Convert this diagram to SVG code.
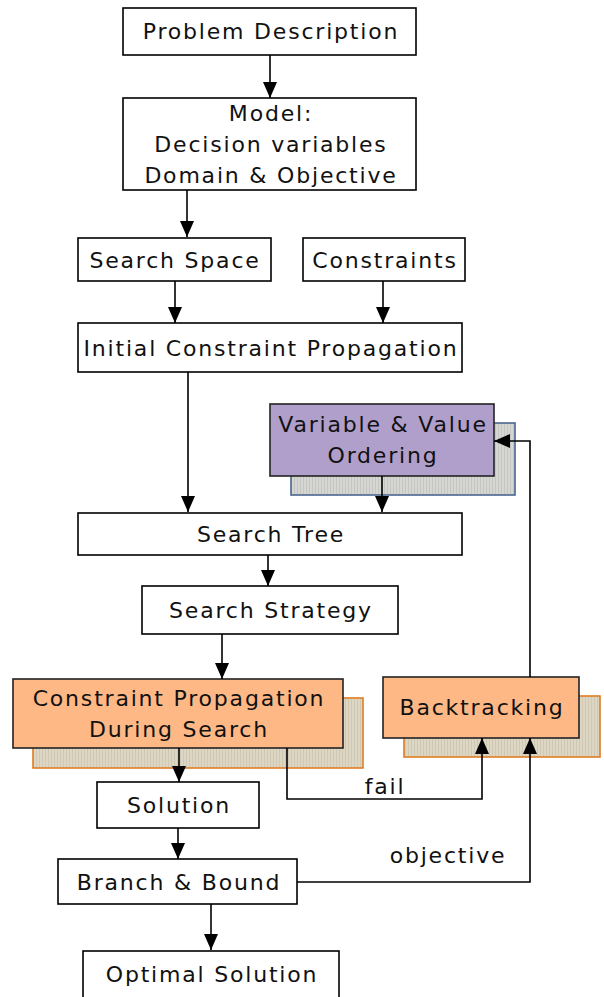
<svg xmlns="http://www.w3.org/2000/svg" width="604" height="997" viewBox="0 0 604 997">
<defs>
<marker id="ahb" viewBox="0 0 16 14" refX="16" refY="7" markerWidth="16" markerHeight="14" markerUnits="userSpaceOnUse" orient="auto">
<path d="M0,0 L16,7 L0,14 z" fill="#000"/>
</marker>
<pattern id="stripe" width="3" height="4" patternUnits="userSpaceOnUse">
<rect width="3" height="4" fill="#ddd6c3"/>
<rect width="1" height="4" fill="#cfc8b4"/>
</pattern>
<pattern id="stripeb" width="3" height="4" patternUnits="userSpaceOnUse">
<rect width="3" height="4" fill="#d6d6d2"/>
<rect width="1" height="4" fill="#c4c6c4"/>
</pattern>
</defs>
<style>
.box{fill:#fff;stroke:#000;stroke-width:1.6}
.orange{fill:#fdb885;stroke:#222;stroke-width:1.6}
.purple{fill:#b09fcb;stroke:#222;stroke-width:1.6}
.shO{fill:url(#stripe);stroke:#e07c22;stroke-width:1.6}
.shB{fill:url(#stripeb);stroke:#4a6690;stroke-width:1.6}
text{font-family:"DejaVu Sans","Liberation Sans",sans-serif;font-size:22px;fill:#111;text-anchor:middle;letter-spacing:1.8px}
.c{fill:none;stroke:#000;stroke-width:1.6}
</style>

<g id="problem">
<rect class="box" x="123" y="8" width="293" height="47"/>
<text x="271" y="39">Problem Description</text>
</g>
<g id="model">
<rect class="box" x="123" y="98" width="293" height="92"/>
<text x="271" y="121">Model:</text>
<text x="271" y="152">Decision variables</text>
<text x="271" y="183">Domain &amp; Objective</text>
</g>
<g id="searchspace">
<rect class="box" x="78" y="238" width="193" height="43"/>
<text x="175" y="268">Search Space</text>
</g>
<g id="constraints">
<rect class="box" x="303" y="238" width="162" height="43"/>
<text x="385" y="268">Constraints</text>
</g>
<g id="initial">
<rect class="box" x="78" y="323" width="384" height="49"/>
<text x="271" y="356">Initial Constraint Propagation</text>
</g>
<g id="ordering">
<rect class="shB" x="291" y="423" width="224" height="72"/>
<rect class="purple" x="270" y="404" width="224" height="72"/>
<text x="383" y="432">Variable &amp; Value</text>
<text x="383" y="463">Ordering</text>
</g>
<g id="searchtree">
<rect class="box" x="78" y="513" width="384" height="42"/>
<text x="271" y="542">Search Tree</text>
</g>
<g id="strategy">
<rect class="box" x="142" y="586" width="256" height="48"/>
<text x="271" y="618">Search Strategy</text>
</g>
<g id="cpds">
<rect class="shO" x="33" y="698" width="330" height="70"/>
<rect class="orange" x="13" y="679" width="330" height="69"/>
<text x="179" y="706">Constraint Propagation</text>
<text x="179" y="737">During Search</text>
</g>
<g id="backtracking">
<rect class="shO" x="404" y="696" width="196" height="61"/>
<rect class="orange" x="383" y="677" width="196" height="61"/>
<text x="482" y="715">Backtracking</text>
</g>
<g id="solution">
<rect class="box" x="97" y="782" width="162" height="46"/>
<text x="179" y="813">Solution</text>
</g>
<g id="bnb">
<rect class="box" x="58" y="859" width="239" height="45"/>
<text x="179" y="890">Branch &amp; Bound</text>
</g>
<g id="optimal">
<rect class="box" x="83" y="951" width="256" height="50"/>
<text x="212" y="982">Optimal Solution</text>
</g>

<g id="connectors">
<line class="c" x1="270" y1="55" x2="270" y2="98" marker-end="url(#ahb)"/>
<line class="c" x1="187" y1="190" x2="187" y2="237" marker-end="url(#ahb)"/>
<line class="c" x1="175" y1="281" x2="175" y2="323" marker-end="url(#ahb)"/>
<line class="c" x1="383" y1="281" x2="383" y2="323" marker-end="url(#ahb)"/>
<line class="c" x1="188" y1="372" x2="188" y2="512" marker-end="url(#ahb)"/>
<line class="c" x1="382" y1="476" x2="382" y2="512" marker-end="url(#ahb)"/>
<line class="c" x1="268" y1="555" x2="268" y2="586" marker-end="url(#ahb)"/>
<line class="c" x1="222" y1="634" x2="222" y2="679" marker-end="url(#ahb)"/>
<line class="c" x1="179" y1="748" x2="179" y2="782" marker-end="url(#ahb)"/>
<line class="c" x1="178" y1="828" x2="178" y2="859" marker-end="url(#ahb)"/>
<line class="c" x1="211" y1="904" x2="211" y2="950" marker-end="url(#ahb)"/>
<polyline class="c" points="287,748 287,799 482,799 482,738" marker-end="url(#ahb)"/>
<polyline class="c" points="297,882 530,882 530,738" marker-end="url(#ahb)"/>
<polyline class="c" points="530,677 530,441 494,441" marker-end="url(#ahb)"/>
<text x="385" y="794">fail</text>
<text x="448" y="863">objective</text>
</g>
</svg>
